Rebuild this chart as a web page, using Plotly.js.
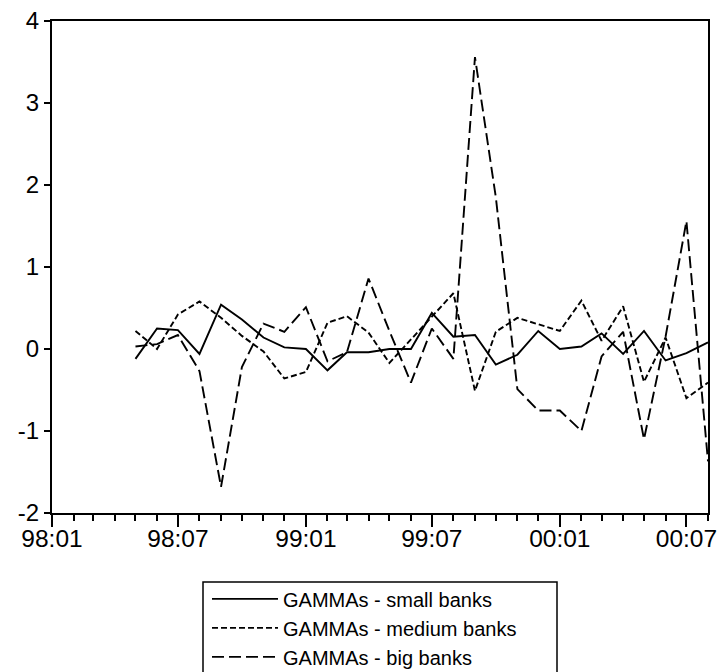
<!DOCTYPE html>
<html>
<head>
<meta charset="utf-8">
<script src="https://cdn.plot.ly/plotly-3.0.1.min.js"></script>
<style>
  html, body { margin: 0; padding: 0; background: #ffffff; }
  #chart { width: 718px; height: 672px; }
</style>
</head>
<body>
<div id="chart"></div>
<script>
const months = ["1998-05","1998-06","1998-07","1998-08","1998-09","1998-10","1998-11","1998-12",
                "1999-01","1999-02","1999-03","1999-04","1999-05","1999-06","1999-07","1999-08",
                "1999-09","1999-10","1999-11","1999-12","2000-01","2000-02","2000-03","2000-04",
                "2000-05","2000-06","2000-07","2000-08"];

const smallBanks = [-0.12, 0.25, 0.23, -0.06, 0.54, 0.36, 0.14, 0.02,
                    0.00, -0.26, -0.04, -0.04, 0.00, 0.00, 0.44, 0.15,
                    0.17, -0.19, -0.07, 0.22, 0.00, 0.03, 0.19, -0.06,
                    0.22, -0.14, -0.05, 0.08];

const mediumBanks = [0.22, 0.00, 0.42, 0.58, 0.38, 0.16, -0.03, -0.36,
                     -0.28, 0.32, 0.40, 0.20, -0.17, 0.12, 0.40, 0.68,
                     -0.51, 0.21, 0.38, 0.30, 0.22, 0.59, 0.10, 0.52,
                     -0.40, 0.14, -0.60, -0.41];

const bigBanks = [0.03, 0.06, 0.17, -0.27, -1.68, -0.22, 0.31, 0.21,
                  0.51, -0.15, -0.04, 0.86, 0.22, -0.41, 0.25, -0.12,
                  3.56, 1.85, -0.49, -0.75, -0.75, -1.00, -0.09, 0.21,
                  -1.10, 0.15, 1.56, -1.37];

const seriesNames = ["GAMMAs - small banks", "GAMMAs - medium banks", "GAMMAs - big banks"];

const xTickVals = ["1998-01-01","1998-07-01","1999-01-01","1999-07-01","2000-01-01","2000-07-01"];
const xTickText = ["98:01","98:07","99:01","99:07","00:01","00:07"];
const yTickVals = [-2, -1, 0, 1, 2, 3, 4];
const yTickText = ["-2", "-1", "0", "1", "2", "3", "4"];

const traces = [
  { x: months, y: smallBanks, name: seriesNames[0], type: "scatter", mode: "lines",
    line: { color: "#000000", width: 1.9, dash: "solid" } },
  { x: months, y: mediumBanks, name: seriesNames[1], type: "scatter", mode: "lines",
    line: { color: "#000000", width: 1.9, dash: "6px,3px" } },
  { x: months, y: bigBanks, name: seriesNames[2], type: "scatter", mode: "lines",
    line: { color: "#000000", width: 1.9, dash: "12px,5px" } }
];

const layout = {
  width: 718, height: 672,
  paper_bgcolor: "#ffffff", plot_bgcolor: "#ffffff",
  margin: { l: 52, r: 10, t: 21, b: 159, autoexpand: false },
  font: { family: "Liberation Sans, Arial, sans-serif", color: "#000000" },
  showlegend: true,
  xaxis: {
    type: "date",
    range: ["1998-01-01", "2000-08-01"],
    tickmode: "array", tickvals: xTickVals, ticktext: xTickText,
    ticks: "outside", ticklen: 12, tickwidth: 2, tickcolor: "#000000",
    ticklabelstandoff: -9,
    minor: { dtick: "M1", tick0: "1998-01-01", ticks: "outside", ticklen: 6, tickwidth: 2, tickcolor: "#000000", showgrid: false },
    showline: true, linecolor: "#000000", linewidth: 2, mirror: true,
    showgrid: false, zeroline: false,
    tickfont: { family: "Liberation Sans, Arial, sans-serif", size: 24.5, color: "#000000" }
  },
  yaxis: {
    range: [-2, 4], tickmode: "array", tickvals: yTickVals, ticktext: yTickText,
    ticks: "outside", ticklen: 6, tickwidth: 2, tickcolor: "#000000",
    showline: true, linecolor: "#000000", linewidth: 2, mirror: true,
    showgrid: false, zeroline: false,
    tickfont: { family: "Liberation Sans, Arial, sans-serif", size: 24, color: "#000000" }
  },
  legend: {
    x: (207 - 52) / 656, y: -0.135, xanchor: "left", yanchor: "top",
    orientation: "v",
    bgcolor: "rgba(0,0,0,0)", borderwidth: 0,
    font: { family: "Liberation Sans, Arial, sans-serif", size: 20, color: "#000000" },
    itemwidth: 66, tracegroupgap: 0
  },
  shapes: [
    { type: "rect", xref: "paper", yref: "paper",
      x0: (203 - 52) / 656, x1: (557 - 52) / 656,
      y0: (513 - 582) / 492, y1: (513 - 690) / 492,
      line: { color: "#000000", width: 1.5 }, fillcolor: "rgba(0,0,0,0)", layer: "below" }
  ]
};

Plotly.newPlot("chart", traces, layout, { displayModeBar: false, staticPlot: true });
</script>
</body>
</html>
